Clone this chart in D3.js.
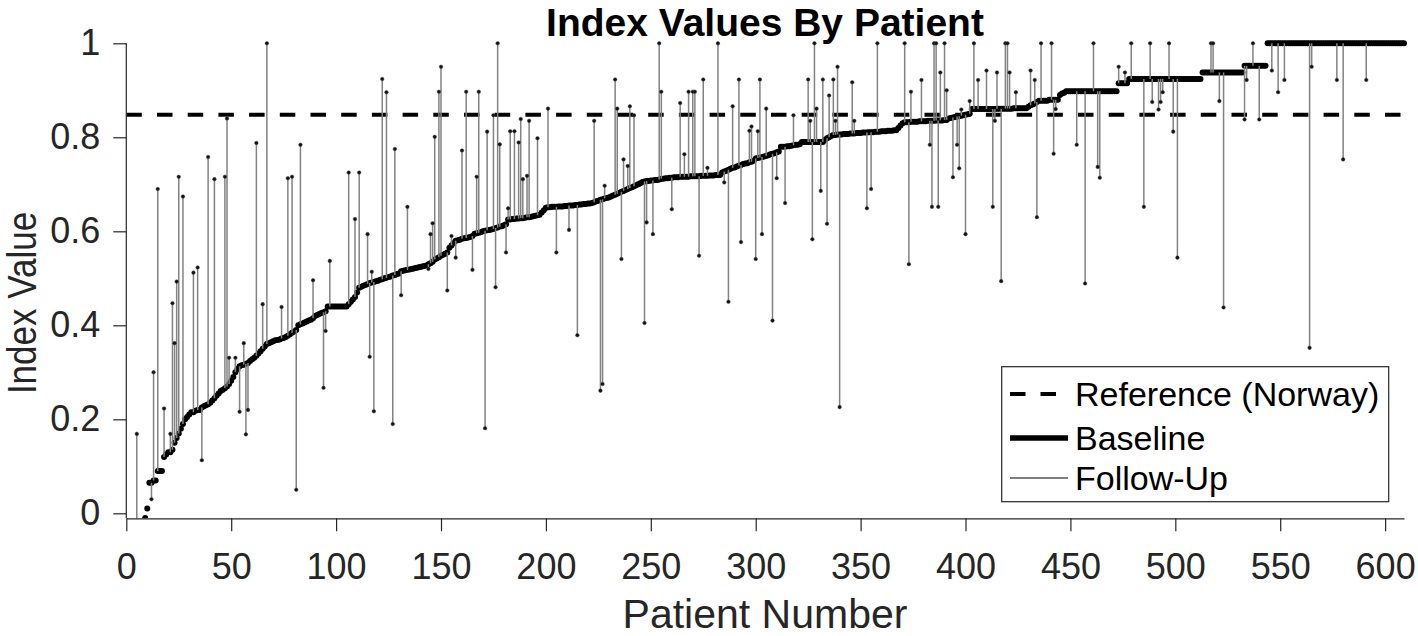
<!DOCTYPE html>
<html><head><meta charset="utf-8">
<script src="https://cdn.jsdelivr.net/npm/d3@7/dist/d3.min.js"></script>
<style>
html,body{margin:0;padding:0;background:#fff;}
svg{display:block;font-family:"Liberation Sans",Arial,Helvetica,sans-serif;}
</style></head>
<body>
<svg id="chart" width="1418" height="636"></svg>
<script>
// ---- data ----
const title = "Index Values By Patient";
const xLabel = "Patient Number";
const yLabel = "Index Value";
const xTicks = [0,50,100,150,200,250,300,350,400,450,500,550,600];
const yTicks = [0,0.2,0.4,0.6,0.8,1];
const yTickLabels = ["0","0.2","0.4","0.6","0.8","1"];
const referenceNorway = 0.848;
const legendLabels = ["Reference (Norway)","Baseline","Follow-Up"];

// baseline index value per patient (patients 1..609, sorted)
const baseline = [
-0.2,-0.15,-0.12,-0.1,-0.08,-0.06,-0.045,-0.03,-0.01,0.01,
0.065,0.065,0.07,0.07,0.09,0.09,0.09,0.12,0.125,0.13,
0.13,0.135,0.15,0.16,0.17,0.18,0.19,0.2,0.205,0.21,
0.215,0.215,0.218,0.22,0.22,0.225,0.228,0.23,0.232,0.235,
0.24,0.245,0.25,0.255,0.26,0.263,0.266,0.27,0.275,0.282,
0.29,0.3,0.307,0.313,0.315,0.316,0.318,0.32,0.324,0.328,
0.331,0.335,0.34,0.345,0.35,0.355,0.36,0.362,0.364,0.366,
0.368,0.369,0.37,0.372,0.373,0.375,0.378,0.381,0.384,0.387,
0.39,0.4,0.402,0.404,0.406,0.408,0.41,0.412,0.415,0.42,
0.422,0.424,0.426,0.428,0.43,0.44,0.44,0.44,0.44,0.44,
0.44,0.44,0.44,0.44,0.44,0.445,0.45,0.455,0.46,0.47,
0.48,0.482,0.484,0.486,0.488,0.49,0.491,0.492,0.494,0.495,
0.497,0.498,0.5,0.501,0.503,0.504,0.506,0.507,0.509,0.51,
0.515,0.516,0.517,0.518,0.519,0.52,0.521,0.522,0.523,0.524,
0.525,0.526,0.527,0.53,0.532,0.535,0.54,0.542,0.545,0.548,
0.55,0.552,0.555,0.565,0.57,0.575,0.58,0.581,0.582,0.584,
0.585,0.586,0.587,0.588,0.59,0.595,0.596,0.597,0.598,0.6,
0.601,0.602,0.603,0.604,0.605,0.607,0.608,0.61,0.611,0.613,
0.615,0.625,0.625,0.626,0.626,0.627,0.627,0.628,0.628,0.629,
0.63,0.63,0.631,0.632,0.633,0.634,0.635,0.64,0.645,0.65,
0.651,0.651,0.652,0.652,0.652,0.653,0.653,0.653,0.654,0.654,
0.655,0.655,0.655,0.656,0.656,0.657,0.657,0.658,0.658,0.659,
0.659,0.66,0.662,0.664,0.665,0.667,0.668,0.67,0.671,0.672,
0.674,0.676,0.678,0.68,0.682,0.684,0.686,0.688,0.69,0.692,
0.694,0.696,0.698,0.7,0.702,0.705,0.706,0.707,0.707,0.708,
0.708,0.709,0.709,0.71,0.712,0.712,0.713,0.713,0.714,0.714,
0.715,0.715,0.715,0.716,0.716,0.716,0.716,0.716,0.717,0.717,
0.717,0.717,0.717,0.718,0.718,0.718,0.718,0.719,0.719,0.719,
0.72,0.72,0.72,0.725,0.727,0.729,0.731,0.733,0.735,0.736,
0.738,0.74,0.741,0.743,0.744,0.745,0.747,0.748,0.75,0.755,
0.756,0.757,0.758,0.759,0.76,0.762,0.764,0.765,0.766,0.768,
0.77,0.78,0.78,0.78,0.781,0.781,0.782,0.783,0.784,0.784,
0.785,0.79,0.79,0.79,0.79,0.79,0.79,0.79,0.79,0.79,
0.79,0.79,0.795,0.798,0.8,0.803,0.805,0.805,0.806,0.806,
0.806,0.807,0.807,0.807,0.808,0.808,0.808,0.809,0.809,0.809,
0.81,0.81,0.81,0.811,0.811,0.811,0.812,0.812,0.812,0.813,
0.813,0.813,0.814,0.814,0.814,0.815,0.815,0.82,0.825,0.83,
0.832,0.832,0.832,0.833,0.833,0.833,0.833,0.834,0.834,0.834,
0.834,0.835,0.835,0.835,0.835,0.836,0.836,0.836,0.836,0.837,
0.837,0.84,0.841,0.842,0.843,0.844,0.845,0.846,0.847,0.848,
0.849,0.85,0.86,0.86,0.86,0.86,0.86,0.86,0.86,0.86,
0.86,0.86,0.86,0.86,0.861,0.861,0.861,0.861,0.861,0.861,
0.861,0.861,0.862,0.862,0.862,0.862,0.862,0.862,0.862,0.865,
0.868,0.87,0.872,0.875,0.878,0.878,0.878,0.878,0.878,0.88,
0.88,0.88,0.88,0.88,0.89,0.893,0.895,0.898,0.898,0.898,
0.898,0.898,0.898,0.898,0.898,0.898,0.898,0.898,0.898,0.898,
0.898,0.898,0.898,0.898,0.898,0.898,0.898,0.898,0.898,0.898,
0.898,0.898,0.915,0.915,0.915,0.915,0.915,0.924,0.924,0.924,
0.924,0.924,0.924,0.924,0.924,0.924,0.924,0.924,0.924,0.924,
0.924,0.924,0.924,0.924,0.924,0.924,0.924,0.924,0.924,0.924,
0.924,0.924,0.924,0.924,0.924,0.924,0.924,0.924,0.924,0.924,
0.924,0.924,0.938,0.938,0.938,0.938,0.938,0.938,0.938,0.938,
0.938,0.938,0.938,0.938,0.938,0.938,0.938,0.938,0.938,0.938,
0.938,0.938,0.952,0.952,0.952,0.952,0.952,0.952,0.952,0.952,
0.952,0.952,0.952,1,1,1,1,1,1,1,
1,1,1,1,1,1,1,1,1,1,
1,1,1,1,1,1,1,1,1,1,
1,1,1,1,1,1,1,1,1,1,
1,1,1,1,1,1,1,1,1,1,
1,1,1,1,1,1,1,1,1,1,
1,1,1,1,1,1,1,1,1
];

// follow-up patients and their follow-up index values
const followPatients = [
5,12,13,15,18,21,22,23,24,25,27,32,34,36,39,42,47,48,49,52,
54,56,57,58,62,65,67,74,77,79,81,83,89,94,95,97,106,109,111,115,
116,117,118,122,124,127,128,131,134,144,145,146,147,149,150,153,155,157,160,162,
165,167,168,171,172,175,176,177,178,181,182,183,185,187,188,189,191,192,196,201,
205,211,215,223,226,227,228,233,234,236,237,239,240,242,247,248,251,254,255,260,
264,266,268,270,271,273,275,277,282,285,287,289,292,293,297,298,300,301,302,303,
305,308,310,314,318,325,326,327,328,329,331,332,334,335,337,338,339,340,346,347,
353,355,358,371,373,374,379,383,384,385,386,387,388,390,391,394,396,397,398,400,
402,404,406,410,413,414,415,417,419,420,421,424,431,433,434,436,441,442,443,453,
457,461,463,464,473,476,479,485,488,489,492,493,494,497,499,501,517,518,521,523,
533,534,537,540,546,549,552,564,565,577,580,591
];
const followValues = [
0.169,0.03,0.30,0.69,0.223,0.169,0.447,0.362,0.493,0.716,0.674,0.512,0.523,0.113,0.758,0.711,0.716,0.84,0.331,0.331,
0.216,0.362,0.168,0.22,0.788,0.445,1.0,0.439,0.713,0.716,0.05,0.784,0.496,0.267,0.388,0.537,0.725,0.626,0.725,0.594,
0.333,0.514,0.217,0.924,0.896,0.19,0.775,0.464,0.652,0.52,0.594,0.617,0.801,0.897,0.95,0.474,0.59,0.544,0.772,0.897,
0.518,0.716,0.897,0.181,0.812,0.847,0.481,1.0,0.785,0.555,0.649,0.813,0.813,0.789,0.839,0.711,0.718,0.835,0.798,0.861,
0.555,0.603,0.379,0.835,0.261,0.275,0.697,0.923,0.861,0.541,0.753,0.739,0.866,0.847,0.405,0.619,0.594,1.0,0.897,0.647,
0.873,0.764,0.897,0.897,0.897,0.548,0.923,0.735,1.0,0.704,0.45,0.866,0.923,0.577,0.814,0.823,0.541,0.813,0.923,0.594,
0.861,0.41,0.713,0.66,0.847,0.923,0.835,0.583,1.0,0.861,0.686,0.923,0.616,0.889,0.923,0.835,0.95,0.226,0.917,0.835,
0.649,0.69,1.0,1.0,0.53,0.897,0.922,0.784,0.652,1.0,1.0,0.652,0.938,1.0,0.90,0.715,0.784,0.734,0.859,0.594,
0.877,1.0,0.922,0.942,0.652,0.835,0.938,0.494,1.0,1.0,0.938,0.896,0.942,0.922,0.63,1.0,1.0,0.765,0.86,0.784,
0.489,1.0,0.737,0.714,0.95,0.938,1.0,0.652,1.0,0.875,0.859,0.875,0.896,1.0,0.812,0.544,1.0,1.0,0.877,0.438,
0.838,0.922,1.0,0.838,0.942,0.896,0.922,0.352,0.95,0.922,0.753,0.922
];

// ---- chart ----
const svg = d3.select("#chart");
const axisColor = "#262626";
const x = d3.scaleLinear().domain([0, 609]).range([126.3, 1404]);
const y = d3.scaleLinear().domain([-0.0106, 1]).range([518.3, 43.3]);
const yMin = y.domain()[0];

svg.append("defs").append("clipPath").attr("id","plotClip")
  .append("rect").attr("x", x(0)).attr("y", 0)
  .attr("width", x(609) - x(0) + 6).attr("height", y(yMin));

const plot = svg.append("g").attr("clip-path","url(#plotClip)");

// reference line
plot.append("line")
  .attr("x1", x(0)).attr("x2", x(609))
  .attr("y1", y(referenceNorway)).attr("y2", y(referenceNorway))
  .attr("stroke","#000").attr("stroke-width",3.8)
  .attr("stroke-dasharray","15.5,15.2");

// baseline dots
const baseData = baseline.map((v,i)=>({p:i+1, v:v})).filter(d=>d.v >= yMin - 0.0005);
plot.append("g").selectAll("circle").data(baseData).join("circle")
  .attr("cx", d=>x(d.p)).attr("cy", d=>y(Math.max(d.v, yMin)))
  .attr("r", 3).attr("fill","#000");

// follow-up stems
const fu = followPatients.map((p,i)=>({p:p, b:baseline[p-1], f:followValues[i]}));
plot.append("g").selectAll("line").data(fu).join("line")
  .attr("x1", d=>x(d.p)).attr("x2", d=>x(d.p))
  .attr("y1", d=>y(d.b)).attr("y2", d=>y(d.f))
  .attr("stroke","#828282").attr("stroke-width",1.5);
plot.append("g").selectAll("circle").data(fu.filter(d=>d.f>=yMin)).join("circle")
  .attr("cx", d=>x(d.p)).attr("cy", d=>y(d.f))
  .attr("r", 1.8).attr("fill","#111").attr("stroke","#444").attr("stroke-width",0.5);

// axes
const xAxis = svg.append("g").attr("transform",`translate(0,${y(yMin)})`)
  .call(d3.axisBottom(x).tickValues(xTicks).tickFormat(d3.format("d"))
        .tickSize(13).tickSizeOuter(0).tickPadding(22));
const yAxis = svg.append("g").attr("transform",`translate(${x(0)},0)`)
  .call(d3.axisLeft(y).tickValues(yTicks).tickFormat((d,i)=>yTickLabels[i])
        .tickSize(13).tickSizeOuter(0).tickPadding(13));
[xAxis,yAxis].forEach(g=>{
  g.select(".domain").attr("stroke",axisColor).attr("stroke-width",1.2);
  g.selectAll(".tick line").attr("stroke",axisColor).attr("stroke-width",1.2);
  g.selectAll(".tick text").attr("fill",axisColor)
    .style("font-family",'"Liberation Sans",Arial,sans-serif').style("font-size","36px");
});
// y axis line only spans the y range
yAxis.select(".domain").attr("d",`M0,${y(1)}V${y(yMin)}`);

// title and labels
svg.append("text").attr("x", 765).attr("y", 36).attr("text-anchor","middle")
  .style("font-weight","bold").style("font-size","39px").attr("fill","#000").text(title);
svg.append("text").attr("x", 765).attr("y", 628).attr("text-anchor","middle")
  .style("font-size","41px").attr("fill",axisColor).text(xLabel);
svg.append("text").attr("transform","translate(36,303) scale(1.15,1) rotate(-90)")
  .attr("text-anchor","middle").style("font-size","35px").attr("fill",axisColor).text(yLabel);

// legend
const lg = svg.append("g");
lg.append("rect").attr("x",1001.7).attr("y",366.7).attr("width",387).attr("height",135)
  .attr("fill","#fff").attr("stroke",axisColor).attr("stroke-width",1.2);
const rowY = [394, 438, 478];
const textY = [406, 450, 490];
lg.append("line").attr("x1",1010).attr("x2",1057).attr("y1",rowY[0]).attr("y2",rowY[0])
  .attr("stroke","#000").attr("stroke-width",3.8).attr("stroke-dasharray","15.5,15");
lg.append("line").attr("x1",1010).attr("x2",1068).attr("y1",rowY[1]).attr("y2",rowY[1])
  .attr("stroke","#000").attr("stroke-width",5.5);
lg.append("line").attr("x1",1010).attr("x2",1068).attr("y1",rowY[2]).attr("y2",rowY[2])
  .attr("stroke","#000").attr("stroke-width",1);
legendLabels.forEach((t,i)=>{
  lg.append("text").attr("x",1075).attr("y",textY[i]).style("font-size","34px")
    .attr("fill","#000").text(t);
});
</script>
</body></html>
